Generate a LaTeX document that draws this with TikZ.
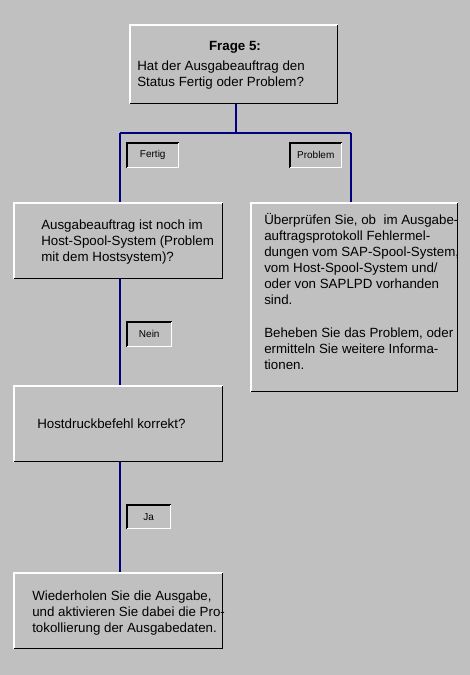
\documentclass[tikz,border=0pt]{standalone}
\usepackage{fontspec}
\setmainfont{Liberation Sans}
\usepackage{xcolor}
\usepackage{tikz}
\usetikzlibrary{positioning}

\definecolor{winbg}{RGB}{192,192,192}
\definecolor{navy}{RGB}{0,0,128}

\newcommand{\zeilen}[1]{\begin{tabular}[t]{@{}l@{}}#1\end{tabular}}

\tikzset{
  box/.style={rectangle, inner sep=0pt, anchor=north west},
  tag/.style={rectangle, inner sep=0pt, anchor=north west, font=\fontsize{7.5}{9}\selectfont},
  txt/.style={anchor=base west, inner sep=0pt, font=\fontsize{10}{12}\selectfont},
  conn/.style={draw=navy, line width=1.5pt},
  hilite/.style={draw=white, line width=0.8pt},
  shade/.style={draw=black, line width=0.8pt}
}

\begin{document}
\begin{tikzpicture}[x=0.75pt, y=-0.75pt]
  % Hintergrund
  \useasboundingbox (0,0) rectangle (470,675);
  \fill[winbg] (0,0) rectangle (470,675);

  % Kaesten
  \node[box, minimum width=155.25pt, minimum height=58.5pt] (frage) at (130,25) {};
  \node[box, minimum width=156pt, minimum height=56.25pt] (host) at (14,203) {};
  \node[box, minimum width=154.5pt, minimum height=141pt] (check) at (251,203) {};
  \node[box, minimum width=156pt, minimum height=56.25pt] (cmd) at (14,386) {};
  \node[box, minimum width=156pt, minimum height=56.25pt] (retry) at (14,573) {};

  % Texte
  \node[anchor=base, inner sep=0pt, font=\fontsize{10}{12}\selectfont\bfseries] (frageTitel) at (235,50) {Frage 5:};
  \node[txt] (frageText) at (137,70) {\zeilen{Hat der Ausgabeauftrag den\\Status Fertig oder Problem?}};
  \node[txt] (hostText) at (41,229) {\zeilen{Ausgabeauftrag ist noch im\\Host-Spool-System (Problem\\mit dem Hostsystem)?}};
  \node[txt] (checkText) at (264,224) {\zeilen{\"Uberpr\"ufen Sie, ob\ \ im Ausgabe-\\auftragsprotokoll Fehlermel-\\dungen vom SAP-Spool-System,\\vom Host-Spool-System und/\\oder von SAPLPD vorhanden\\sind.\\[13pt]Beheben Sie das Problem, oder\\ermitteln Sie weitere Informa-\\tionen.}};
  \node[txt] (cmdText) at (37,428) {Hostdruckbefehl korrekt?};
  \node[txt] (retryText) at (32,600) {\zeilen{Wiederholen Sie die Ausgabe,\\und aktivieren Sie dabei die Pro-\\tokollierung der Ausgabedaten.}};

  % Verbindungen
  \coordinate (split) at (236,133);
  \coordinate (links) at (120,133);
  \coordinate (rechts) at (351,133);
  \draw[conn] (split |- frage.south) -- (split);
  \draw[conn] (links) -- (rechts);
  \draw[conn] (links) -- (links |- host.north);
  \draw[conn] (rechts) -- (rechts |- check.north);
  \draw[conn] (links |- host.south) -- (links |- cmd.north);
  \draw[conn] (links |- cmd.south) -- (links |- retry.north);

  % Beschriftungen
  \node[tag, minimum width=38.25pt, minimum height=18pt] (fertig) at (127,143) {Fertig};
  \node[tag, minimum width=38.25pt, minimum height=18pt] (problem) at (290,143) {Problem};
  \node[tag, minimum width=33pt, minimum height=18pt] (nein) at (127,322) {Nein};
  \node[tag, minimum width=32.25pt, minimum height=17.25pt] (ja) at (127,505) {Ja};

  % Kanten (3D)
  \foreach \n in {frage,host,check,cmd,retry} {
    \draw[hilite] (\n.south west) -- (\n.north west) -- (\n.north east);
    \draw[shade] (\n.north east) -- (\n.south east) -- (\n.south west);
  }
  \foreach \n in {fertig,problem,nein,ja} {
    \draw[shade] (\n.south west) -- (\n.north west) -- (\n.north east);
    \draw[hilite] (\n.north east) -- (\n.south east) -- (\n.south west);
  }
\end{tikzpicture}
\end{document}
